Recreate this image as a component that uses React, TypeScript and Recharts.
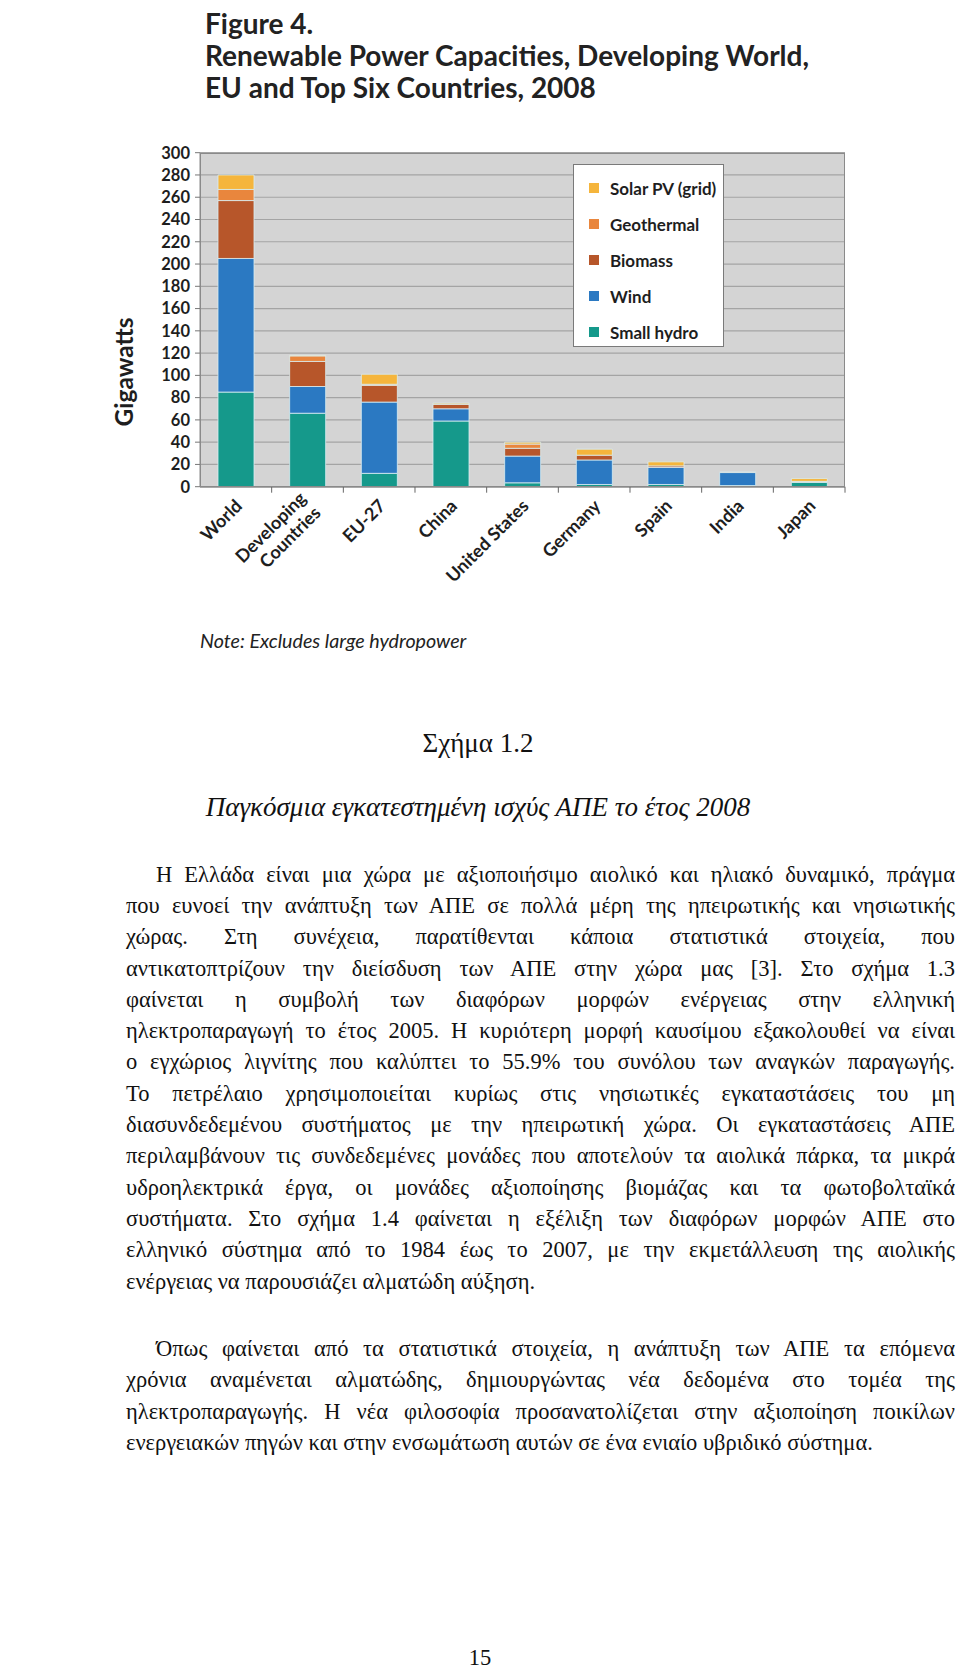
// Renewable power capacities 2008 (stacked bars) with the Greek page text around it.
import React from 'react'
import { BarChart, Bar, XAxis, YAxis, CartesianGrid, Legend } from 'recharts'

const categories = ['World', 'Developing Countries', 'EU-27', 'China', 'United States', 'Germany', 'Spain', 'India', 'Japan']
const smallHydro = [85, 66, 12, 59, 3.5, 2, 2, 1, 4]
const wind = [120, 24, 64, 11, 24, 22, 15.3, 11.7, 0]
const biomass = [52, 22.5, 15, 4, 7, 4.3, 1.4, 0.5, 0.3]
const geothermal = [10, 5, 1, 0, 3.8, 0, 0, 0, 0.5]
const solarPV = [13, 0.5, 9, 1, 1.7, 5.4, 3.6, 0, 2.5]
const yTicks = [0, 20, 40, 60, 80, 100, 120, 140, 160, 180, 200, 220, 240, 260, 280, 300]

const SERIES = [
  { key: 'smallHydro', label: 'Small hydro', color: '#15998b', values: smallHydro },
  { key: 'wind', label: 'Wind', color: '#2b79c2', values: wind },
  { key: 'biomass', label: 'Biomass', color: '#b7562a', values: biomass },
  { key: 'geothermal', label: 'Geothermal', color: '#e9863d', values: geothermal },
  { key: 'solarPV', label: 'Solar PV (grid)', color: '#f5b53c', values: solarPV },
]

const data = categories.map((name, i) => {
  const row: Record<string, string | number> = { name }
  SERIES.forEach(s => { row[s.key] = s.values[i] })
  return row
})

const para1 = [
  'Η Ελλάδα είναι μια χώρα με αξιοποιήσιμο αιολικό και ηλιακό δυναμικό, πράγμα',
  'που ευνοεί την ανάπτυξη των ΑΠΕ σε πολλά μέρη της ηπειρωτικής και νησιωτικής',
  'χώρας. Στη συνέχεια, παρατίθενται κάποια στατιστικά στοιχεία, που',
  'αντικατοπτρίζουν την διείσδυση των ΑΠΕ στην χώρα μας [3]. Στο σχήμα 1.3',
  'φαίνεται η συμβολή των διαφόρων μορφών ενέργειας στην ελληνική',
  'ηλεκτροπαραγωγή το έτος 2005. Η κυριότερη μορφή καυσίμου εξακολουθεί να είναι',
  'ο εγχώριος λιγνίτης που καλύπτει το 55.9% του συνόλου των αναγκών παραγωγής.',
  'Το πετρέλαιο χρησιμοποιείται κυρίως στις νησιωτικές εγκαταστάσεις του μη',
  'διασυνδεδεμένου συστήματος με την ηπειρωτική χώρα. Οι εγκαταστάσεις ΑΠΕ',
  'περιλαμβάνουν τις συνδεδεμένες μονάδες που αποτελούν τα αιολικά πάρκα, τα μικρά',
  'υδροηλεκτρικά έργα, οι μονάδες αξιοποίησης βιομάζας και τα φωτοβολταϊκά',
  'συστήματα. Στο σχήμα 1.4 φαίνεται η εξέλιξη των διαφόρων μορφών ΑΠΕ στο',
  'ελληνικό σύστημα από το 1984 έως το 2007, με την εκμετάλλευση της αιολικής',
  'ενέργειας να παρουσιάζει αλματώδη αύξηση.',
]
const para2 = [
  'Όπως φαίνεται από τα στατιστικά στοιχεία, η ανάπτυξη των ΑΠΕ τα επόμενα',
  'χρόνια αναμένεται αλματώδης, δημιουργώντας νέα δεδομένα στο τομέα της',
  'ηλεκτροπαραγωγής. Η νέα φιλοσοφία προσανατολίζεται στην αξιοποίηση ποικίλων',
  'ενεργειακών πηγών και στην ενσωμάτωση αυτών σε ένα ενιαίο υβριδικό σύστημα.',
]

const SANS = 'Lato, "Open Sans", sans-serif'
const SERIF = '"Liberation Serif", "Times New Roman", serif'
const BAND = 645 / categories.length

function XTick({ x, y, payload }: any) {
  const lines = payload.value === 'Developing Countries' ? ['Developing', 'Countries'] : [payload.value]
  return (
    <g transform={`translate(${x},${y})`}>
      <line x1={BAND / 2} x2={BAND / 2} y1={-8} y2={-2} stroke="#666" strokeWidth={1} />
      <text transform="translate(3,8) rotate(-45)" textAnchor="end" fontFamily={SANS} fontWeight={700} fontSize={18} fill="#1e1e1e">
        {lines.map((l, i) => (
          <tspan key={l} x={0} dy={i === 0 ? (lines.length > 1 ? '-0.25em' : '0.35em') : '1.15em'}>{l}</tspan>
        ))}
      </text>
    </g>
  )
}

function LegendBox() {
  return (
    <div style={{
      width: 151, height: 183, boxSizing: 'border-box', background: '#fff',
      border: '1.5px solid #7a7a7a', paddingTop: 5,
    }}>
      {[...SERIES].reverse().map(s => (
        <div key={s.key} style={{ display: 'flex', alignItems: 'center', height: 36 }}>
          <span style={{ width: 10, height: 10, background: s.color, marginLeft: 15, marginRight: 11 }} />
          <span style={{ fontFamily: SANS, fontWeight: 700, fontSize: 17, color: '#1e1e1e' }}>{s.label}</span>
        </div>
      ))}
    </div>
  )
}

function TextLine({ text, top, last, indent }: { text: string; top: number; last?: boolean; indent?: boolean }) {
  return (
    <div style={{
      position: 'absolute', left: 126, top, width: 829, boxSizing: 'border-box',
      paddingLeft: indent ? 30 : 0, fontFamily: SERIF, fontSize: 22.5, lineHeight: '31.5px',
      whiteSpace: 'nowrap', textAlign: last ? 'left' : 'justify',
      textAlignLast: last ? 'left' : 'justify', color: '#111',
    }}>
      {text}
    </div>
  )
}

export default function App() {
  return (
    <div style={{ position: 'absolute', left: 0, top: 0, width: 960, height: 1669, background: '#fff', overflow: 'hidden' }}>
      <div style={{
        position: 'absolute', left: 205, top: 7, fontFamily: SANS, fontWeight: 700,
        fontSize: 28, lineHeight: '32px', color: '#222',
      }}>
        <div>Figure 4.</div>
        <div>Renewable Power Capacities, Developing World,</div>
        <div>EU and Top Six Countries, 2008</div>
      </div>

      <div style={{
        position: 'absolute', left: 24, top: 357, width: 200, height: 30, lineHeight: '30px',
        textAlign: 'center', transform: 'rotate(-90deg)', fontFamily: SANS, fontWeight: 700,
        fontSize: 24.5, color: '#1e1e1e',
      }}>Gigawatts</div>

      <div style={{ position: 'absolute', left: 100, top: 130 }}>
        <BarChart width={760} height={480} data={data} barSize={36}
          margin={{ top: 22.7, right: 15, bottom: 13.3, left: 50 }}>
          <CartesianGrid vertical={false} fill="#d4d4d4" stroke="#a4a4a4" strokeWidth={1.2} />
          <XAxis dataKey="name" interval={0} height={110} tickLine={false} tickSize={6} tickMargin={2}
            axisLine={{ stroke: '#6a6a6a', strokeWidth: 1.5 }} tick={<XTick />} />
          <YAxis domain={[0, 300]} ticks={yTicks} interval={0} width={50} tickSize={5} tickMargin={5}
            axisLine={{ stroke: '#8a8a8a' }} tickLine={{ stroke: '#777' }}
            tick={{ fontFamily: SANS, fontWeight: 700, fontSize: 16.5, fill: '#1e1e1e' }} />
          <Legend layout="vertical" align="center" verticalAlign="middle" content={<LegendBox />}
            wrapperStyle={{ left: 473, top: 34, width: 151 }} />
          {SERIES.map(s => (
            <Bar key={s.key} dataKey={s.key} name={s.label} stackId="cap" fill={s.color}
              stroke="#d9eef3" strokeWidth={0.8} isAnimationActive={false} />
          ))}
        </BarChart>
      </div>

      <div style={{
        position: 'absolute', left: 200, top: 152.7, width: 645, height: 334, boxSizing: 'border-box',
        border: '1.5px solid #8a8a8a', pointerEvents: 'none',
      }} />

      <div style={{
        position: 'absolute', left: 200, top: 629, fontFamily: SANS, fontStyle: 'italic',
        fontSize: 19.7, lineHeight: '24px', color: '#222',
      }}>Note: Excludes large hydropower</div>

      <div style={{
        position: 'absolute', left: 0, width: 956, top: 727, textAlign: 'center', fontFamily: SERIF,
        fontSize: 27, lineHeight: '32px', color: '#111',
      }}>Σχήμα 1.2</div>
      <div style={{
        position: 'absolute', left: 0, width: 956, top: 791, textAlign: 'center', fontFamily: SERIF,
        fontStyle: 'italic', fontSize: 27, lineHeight: '32px', color: '#111',
      }}>Παγκόσμια εγκατεστημένη ισχύς ΑΠΕ το έτος 2008</div>

      {para1.map((t, i) => (
        <TextLine key={'a' + i} text={t} top={882 - 23.35 + i * 31.3} indent={i === 0} last={i === para1.length - 1} />
      ))}
      {para2.map((t, i) => (
        <TextLine key={'b' + i} text={t} top={1356 - 23.35 + i * 31.5} indent={i === 0} last={i === para2.length - 1} />
      ))}

      <div style={{
        position: 'absolute', left: 0, width: 960, top: 1642, textAlign: 'center', fontFamily: SERIF,
        fontSize: 22.5, lineHeight: '31.5px', color: '#111',
      }}>15</div>
    </div>
  )
}
